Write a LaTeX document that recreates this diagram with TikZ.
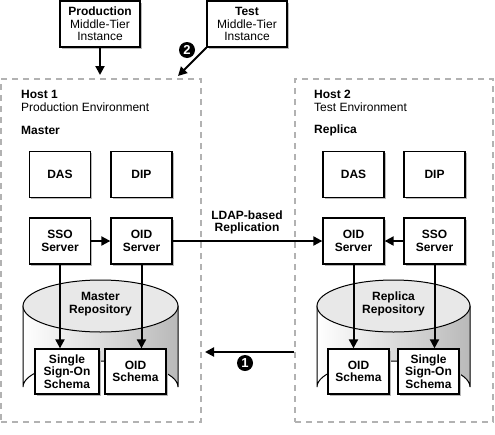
\documentclass[tikz,border=0pt]{standalone}
\usepackage{fontspec}
\setmainfont{Liberation Sans}
\usetikzlibrary{arrows.meta,shadows,calc}
\begin{document}
\begin{tikzpicture}[x=1pt,y=-1pt,
  every node/.style={font=\fontsize{12}{12.3}\selectfont},
  box/.style={draw,line width=1.3pt,fill=white,align=center,inner sep=0pt,
    minimum width=61pt,minimum height=46pt,font=\fontsize{12}{12.3}\selectfont\bfseries,
    drop shadow={shadow xshift=1.6pt,shadow yshift=-1.6pt,fill=gray!55,opacity=1}},
  host/.style={draw=gray!60,line width=2pt,dash pattern=on 6pt off 5pt,inner sep=0pt},
  arr/.style={line width=2pt,-{Triangle[length=9pt,width=9pt]}},
  num/.style={circle,fill=black,text=white,inner sep=0pt,minimum size=16pt,font=\fontsize{13}{13}\selectfont\bfseries},
  cylbody/.style={draw,line width=1pt,left color=white,middle color=white,right color=gray!55},
  cyltop/.style={draw,line width=1pt,fill=gray!18},
]
\useasboundingbox (0,0) rectangle (495,434);

% hosts
\node[host,minimum width=200pt,minimum height=343pt] (host1) at (101,250.5) {};
\node[host,minimum width=198pt,minimum height=343pt] (host2) at (394,250.5) {};

% cylinders
\foreach \cx/\rx in {100.5/77.5,393.5/76.5}{
  \path[cylbody] (\cx-\rx,306) -- (\cx-\rx,387) arc[start angle=180,end angle=0,x radius=\rx,y radius=-26]
     -- (\cx+\rx,306) -- cycle;
  \path[cyltop] (\cx,306) ellipse[x radius=\rx,y radius=26];
}
\node[align=center,font=\fontsize{12}{12.3}\selectfont\bfseries] (mrep) at (100.5,304) {Master\\Repository};
\node[align=center,font=\fontsize{12}{12.3}\selectfont\bfseries] (rrep) at (393.5,304) {Replica\\Repository};

% top boxes
\node[box,minimum width=80pt,font=\fontsize{12}{12.3}\selectfont] (prod) at (100,24) {\textbf{Production}\\Middle-Tier\\Instance};
\node[box,minimum width=80pt,font=\fontsize{12}{12.3}\selectfont] (test) at (247,24) {\textbf{Test}\\Middle-Tier\\Instance};

% host labels
\node[anchor=west,inner sep=0pt,align=left] (h1) at (21,101) {\textbf{Host 1}\\Production Environment};
\node[anchor=west,inner sep=0pt,font=\fontsize{12}{12.3}\selectfont\bfseries] (m1) at (21,130) {Master};
\node[anchor=west,inner sep=0pt,align=left] (h2) at (314,101) {\textbf{Host 2}\\Test Environment};
\node[anchor=west,inner sep=0pt,font=\fontsize{12}{12.3}\selectfont\bfseries] (m2) at (314,130) {Replica};

% left boxes
\node[box] (dasL) at (60,174.5) {DAS};
\node[box] (dipL) at (141.5,174.5) {DIP};
\node[box] (ssoL) at (60,241) {SSO\\Server};
\node[box] (oidL) at (141.5,241) {OID\\Server};
\node[box,minimum width=64pt,minimum height=45pt] (ssoschL) at (67,371.5) {Single\\Sign-On\\Schema};
\node[box,minimum height=45pt] (oidschL) at (135.5,371.5) {OID\\Schema};

% right boxes
\node[box] (dasR) at (353.5,174.5) {DAS};
\node[box] (dipR) at (434.5,174.5) {DIP};
\node[box] (oidR) at (353.5,241) {OID\\Server};
\node[box] (ssoR) at (434.5,241) {SSO\\Server};
\node[box,minimum height=45pt] (oidschR) at (358.5,371.5) {OID\\Schema};
\node[box,minimum height=45pt] (ssoschR) at (428.5,371.5) {Single\\Sign-On\\Schema};

% arrows
\draw[arr] (prod.south) -- ($(prod.south |- host1.north)+(0,-3)$);
\coordinate (t2) at (178,76);
\draw[arr] (test.south west) -- (t2);
\node[num] (n2) at (187,50) {2};

\draw[arr] (ssoL.east) -- (oidL.west);
\draw[arr] (ssoR.west) -- (oidR.east);
\draw[arr] (oidL.east) -- (oidR.west);
\node[align=center,font=\fontsize{12}{12.3}\selectfont\bfseries] (ldap) at (247,222.5) {LDAP-based\\Replication};

\draw[arr] (ssoL.south) -- (ssoL.south |- ssoschL.north);
\draw[arr] (oidL.south) -- (oidL.south |- oidschL.north);
\draw[arr] (oidR.south) -- (oidR.south |- oidschR.north);
\draw[arr] (ssoR.south) -- (ssoR.south |- ssoschR.north);

\coordinate (a1s) at (host2.west |- 0,352);
\coordinate (a1e) at ($(host1.east |- 0,352)+(3,0)$);
\draw[arr] (a1s) -- (a1e);
\node[num] (n1) at (245,363) {1};
\end{tikzpicture}
\end{document}
